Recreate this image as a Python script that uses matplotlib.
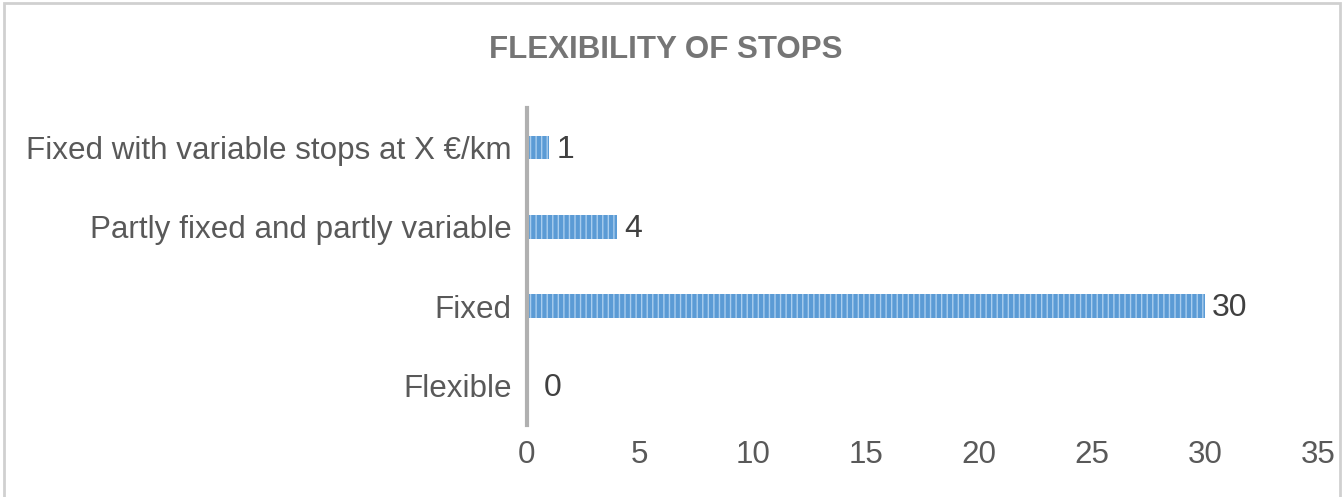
import matplotlib.pyplot as plt
from matplotlib.patches import Rectangle

categories = ['Flexible', 'Fixed', 'Partly fixed and partly variable',
              'Fixed with variable stops at X €/km']
counts = [0, 30, 4, 1]
x_ticks = [0, 5, 10, 15, 20, 25, 30, 35]

plt.rcParams['font.family'] = ['Liberation Sans', 'DejaVu Sans']
plt.rcParams['hatch.color'] = '#a9cdee'
plt.rcParams['hatch.linewidth'] = 1.0

fig = plt.figure(figsize=(13.44, 4.97), dpi=100)
ax = fig.add_axes([0.392, 0.145, 0.589, 0.638])

# outer chart border
fig.patches.append(Rectangle((0.003, -0.1), 0.994, 1.093, transform=fig.transFigure,
                             fill=False, edgecolor='#d0d0d0', linewidth=2))

bars = ax.barh(range(len(categories)), counts, height=0.3, color='#5b9bd5',
               hatch='|||', edgecolor='#a9cdee', linewidth=0)

for i, v in enumerate(counts):
    ax.text(v + 0.3 if v > 0 else 0.75, i - 0.03, str(v), va='center', ha='left',
            fontsize=23, color='#404040')

ax.set_xlim(0, 35)
ax.set_ylim(-0.5, len(categories) - 0.5)
ax.set_xticks(x_ticks)
ax.set_yticks(range(len(categories)))
ax.set_yticklabels(categories)
ax.tick_params(axis='both', length=0, labelsize=22.6, labelcolor='#595959')
ax.tick_params(axis='y', pad=11)
ax.tick_params(axis='x', pad=11)

for s in ['top', 'right', 'bottom']:
    ax.spines[s].set_visible(False)
ax.spines['left'].set_color('#b0b0b0')
ax.spines['left'].set_linewidth(3)

fig.text(0.495, 0.9, 'FLEXIBILITY OF STOPS', ha='center', va='center',
         fontsize=22.5, fontweight='bold', color='#757575')

fig.savefig('out.png', dpi=100)
